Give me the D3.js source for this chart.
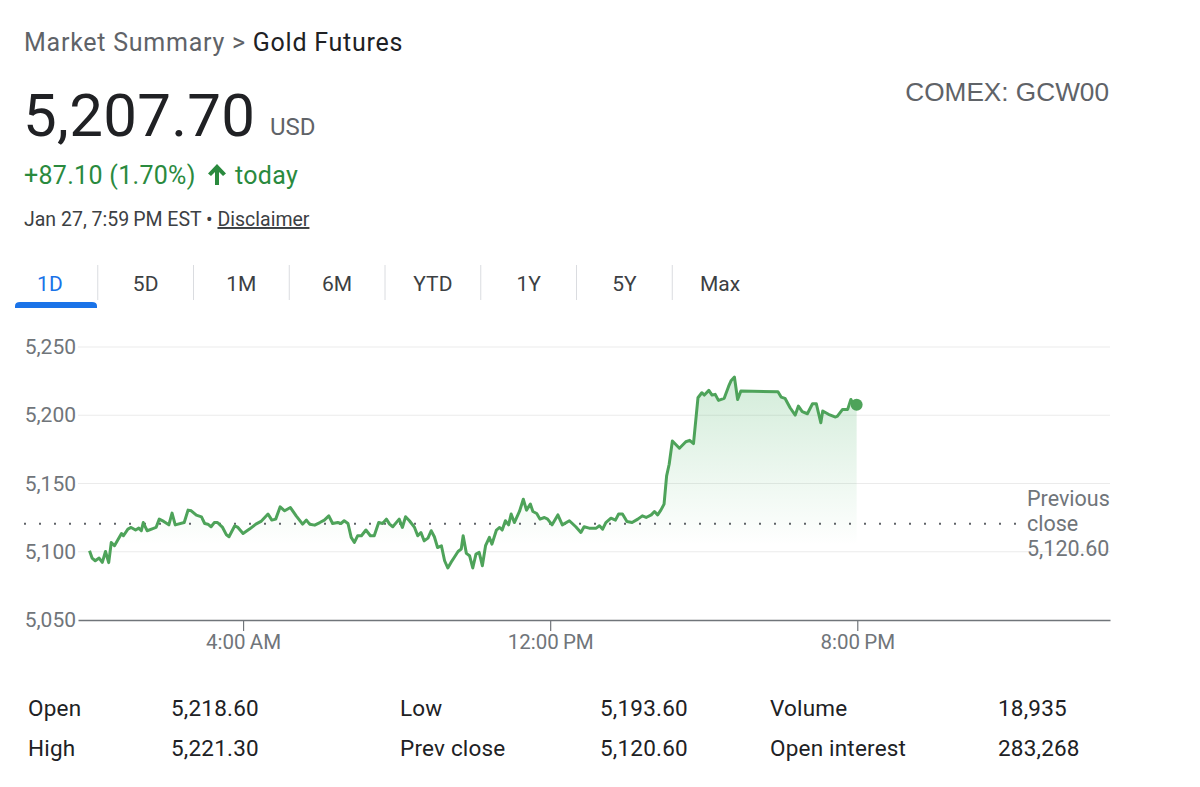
<!DOCTYPE html>
<html>
<head>
<meta charset="utf-8">
<script src="https://cdn.jsdelivr.net/npm/d3@7"></script>
<style>
  body { margin: 0; background: #fff; }
  svg { display: block; font-family: Roboto, "Noto Sans", sans-serif; }
</style>
</head>
<body>
<svg id="chart" width="1200" height="787"></svg>
<script>
// intraday prices, Jan 27 (EST)
const times = [
  "0:00","0:04","0:09","0:15","0:20","0:25","0:30","0:34","0:39","0:50","0:53","1:00","1:05","1:12","1:17","1:21",
  "1:24","1:30","1:39","1:44","1:49","1:56","2:04","2:09","2:14","2:28","2:34","2:39","2:47","2:55","3:00","3:05",
  "3:10","3:15","3:20","3:28","3:34","3:38","3:47","3:52","4:00","4:10","4:20","4:28","4:39","4:45","4:51","4:58",
  "5:05","5:14","5:23","5:33","5:39","5:44","5:52","6:00","6:07","6:14","6:20","6:28","6:33","6:38","6:44","6:49",
  "6:54","6:59","7:05","7:12","7:19","7:25","7:32","7:38","7:44","7:49","7:54","8:04","8:09","8:14","8:20","8:28",
  "8:33","8:38","8:43","8:49","8:54","8:59","9:04","9:10","9:15","9:20","9:25","9:30","9:36","9:41","9:44","9:49",
  "9:54","9:59","10:04","10:09","10:14","10:19","10:25","10:29","10:36","10:41","10:45","10:50","10:55","10:59","11:04","11:12",
  "11:18","11:23","11:29","11:33","11:39","11:44","11:51","11:56","12:03","12:12","12:19","12:30","12:40","12:48","12:53","13:01",
  "13:12","13:17","13:22","13:27","13:35","13:42","13:47","13:53","14:00","14:08","14:17","14:24","14:30","14:38","14:43","14:48",
  "14:53","14:58","15:02","15:06","15:11","15:22","15:32","15:38","15:44","15:51","15:57","16:01","16:08","16:13","16:18","16:23",
  "16:32","16:39","16:43","16:48","16:53","16:58","17:56","18:01","18:07","18:15","18:23","18:28","18:34","18:42","18:50","18:56",
  "19:03","19:06","19:15","19:26","19:29","19:37","19:45","19:50","19:55","19:59"
];
const prices = [
  5100.7,5095.4,5093.4,5095.4,5092.2,5100.2,5092.0,5106.8,5104.4,5113.4,5111.7,5116.6,5117.8,5115.9,5117.3,5115.4,
  5121.4,5115.4,5117.0,5117.8,5123.9,5122.2,5119.7,5128.3,5119.7,5121.4,5130.5,5130.0,5126.8,5125.6,5120.7,5120.2,
  5118.3,5121.4,5121.4,5117.8,5112.4,5111.0,5119.0,5117.8,5113.4,5116.6,5120.2,5122.2,5127.6,5123.2,5123.9,5132.9,
  5130.0,5132.4,5126.3,5120.2,5123.2,5120.2,5119.5,5121.4,5123.2,5126.3,5120.7,5121.4,5120.7,5122.7,5120.7,5110.5,
  5106.8,5111.7,5111.7,5115.9,5111.7,5111.7,5121.4,5120.7,5123.9,5120.2,5118.3,5123.9,5117.8,5125.6,5122.7,5117.8,
  5111.7,5114.1,5108.0,5110.0,5115.4,5111.0,5103.1,5104.4,5093.4,5088.1,5092.2,5095.8,5100.2,5102.0,5111.7,5098.8,
  5097.1,5088.1,5098.3,5099.5,5089.8,5104.4,5110.5,5105.6,5115.9,5117.8,5115.9,5122.7,5119.7,5127.6,5121.4,5129.5,
  5138.5,5130.5,5134.9,5129.5,5128.0,5123.9,5125.1,5123.9,5119.7,5127.0,5119.7,5122.7,5118.3,5114.1,5118.3,5117.3,
  5117.3,5119.0,5116.6,5121.4,5124.6,5123.2,5127.6,5127.6,5122.2,5121.4,5123.9,5126.3,5125.1,5127.0,5129.5,5127.0,
  5130.5,5134.9,5155.6,5164.1,5181.1,5175.8,5180.6,5181.6,5179.2,5212.8,5216.5,5214.8,5218.2,5214.8,5215.3,5210.9,
  5212.4,5221.3,5225.5,5227.9,5211.6,5217.7,5217.2,5213.3,5212.4,5205.5,5200.1,5206.7,5202.6,5201.1,5208.4,5208.4,
  5194.5,5203.1,5200.7,5198.7,5199.4,5204.3,5204.3,5211.6,5206.7,5207.7
];
const prevClose = 5120.60;
const yTicks = [5050, 5100, 5150, 5200, 5250];
const xTickHours = [4, 12, 20];
const tabs = ["1D", "5D", "1M", "6M", "YTD", "1Y", "5Y", "Max"];
const statLabels = [["Open", "High"], ["Low", "Prev close"], ["Volume", "Open interest"]];
const statValues = [["5,218.60", "5,221.30"], ["5,193.60", "5,120.60"], ["18,935", "283,268"]];

const day = (h, m) => new Date(2026, 0, 27, h, m);
const data = times.map((t, i) => {
  const [h, m] = t.split(":").map(Number);
  return { date: day(h, m), value: prices[i] };
});

const svg = d3.select("#chart");
const green = "#4ea35a";
const gray = "#70757a";

// header
const title = svg.append("text").attr("x", 24).attr("y", 51)
  .style("font-size", "25px").style("letter-spacing", "0.75px");
title.append("tspan").attr("fill", "#5f6368").text("Market Summary > ");
title.append("tspan").attr("fill", "#202124").text("Gold Futures");

svg.append("text").attr("x", 23).attr("y", 136)
  .style("font-size", "60px").style("letter-spacing", "0.3px").attr("fill", "#202124")
  .text("5,207.70");
svg.append("text").attr("x", 270).attr("y", 135)
  .style("font-size", "24px").attr("fill", "#5f6368").text("USD");

svg.append("text").attr("x", 24).attr("y", 184)
  .style("font-size", "25px").style("letter-spacing", "0.3px").attr("fill", "#2a8a3e")
  .text("+87.10 (1.70%)");
svg.append("path")
  .attr("d", "M217,164 L208,173.5 L211,176 L215,172 L215,185 L219,185 L219,172 L223,176 L226,173.5 Z")
  .attr("fill", "#2a8a3e");
svg.append("text").attr("x", 235).attr("y", 184)
  .style("font-size", "25px").style("letter-spacing", "0.3px").attr("fill", "#2a8a3e")
  .text("today");

const stamp = svg.append("text").attr("x", 24).attr("y", 226)
  .style("font-size", "19.5px").attr("fill", "#3c4043");
stamp.append("tspan").text("Jan 27, 7:59\u2009PM EST \u2022 ");
stamp.append("tspan").style("text-decoration", "underline").text("Disclaimer");

svg.append("text").attr("x", 1109).attr("y", 101).attr("text-anchor", "end")
  .style("font-family", "'Liberation Sans', Arial, sans-serif")
  .style("font-size", "26.2px").attr("fill", "#5f6368").text("COMEX: GCW00");

// range tabs
const tabX = d3.scaleBand().domain(tabs).range([2, 768]);
const tabG = svg.append("g");
tabs.forEach((t, i) => {
  tabG.append("text")
    .attr("x", tabX(t) + tabX.bandwidth() / 2).attr("y", 291)
    .attr("text-anchor", "middle").style("font-size", "21px")
    .attr("fill", i === 0 ? "#1a73e8" : "#3c4043").text(t);
  if (i > 0) tabG.append("line")
    .attr("x1", tabX(t)).attr("x2", tabX(t)).attr("y1", 265).attr("y2", 300)
    .attr("stroke", "#dadce0");
});
tabG.append("path")
  .attr("d", `M15,308 L15,306 Q15,302 20,302 L92,302 Q97,302 97,306 L97,308 Z`)
  .attr("fill", "#1a73e8");

// chart
const x = d3.scaleTime()
  .domain([new Date(2026, 0, 26, 23, 42), new Date(2026, 0, 28, 2, 35)])
  .range([78, 1110]);
const y = d3.scaleLinear().domain([5050, 5250]).range([620, 347]);

svg.append("g").selectAll("line").data(yTicks.slice(1)).join("line")
  .attr("x1", 78).attr("x2", 1110)
  .attr("y1", d => y(d)).attr("y2", d => y(d))
  .attr("stroke", "#ebebeb").attr("stroke-width", 1);

const yAxis = svg.append("g").attr("transform", "translate(78,0)")
  .call(d3.axisLeft(y).tickValues(yTicks).tickSize(0).tickPadding(2).tickFormat(d3.format(",")));
yAxis.select(".domain").remove();
yAxis.selectAll("text").style("font-size", "21px").attr("fill", gray).style("font-family", "Roboto");

// area gradient
const defs = svg.append("defs");
const grad = defs.append("linearGradient").attr("id", "fillGrad")
  .attr("gradientUnits", "userSpaceOnUse")
  .attr("x1", 0).attr("x2", 0).attr("y1", y(5228)).attr("y2", 545);
grad.append("stop").attr("offset", 0).attr("stop-color", "#34a853").attr("stop-opacity", 0.22);
grad.append("stop").attr("offset", 1).attr("stop-color", "#34a853").attr("stop-opacity", 0);

svg.append("path").datum(data)
  .attr("fill", "url(#fillGrad)")
  .attr("d", d3.area().x(d => x(d.date)).y0(545).y1(d => y(d.value)));

// previous close dotted line
svg.append("line")
  .attr("x1", 24).attr("x2", 1020)
  .attr("y1", y(prevClose)).attr("y2", y(prevClose))
  .attr("stroke", "#5f6368").attr("stroke-width", 2)
  .attr("stroke-dasharray", "2,13");

const pc = svg.append("text").attr("x", 1027).style("font-size", "21.5px").attr("fill", gray);
["Previous", "close", d3.format(",.2f")(prevClose)].forEach((s, i) =>
  pc.append("tspan").attr("x", 1027).attr("y", 506 + i * 25).text(s));

// price line
svg.append("path").datum(data)
  .attr("fill", "none").attr("stroke", green).attr("stroke-width", 3)
  .attr("stroke-linejoin", "round")
  .attr("d", d3.line().x(d => x(d.date)).y(d => y(d.value)));

const last = data[data.length - 1];
svg.append("circle").attr("cx", x(last.date)).attr("cy", y(last.value)).attr("r", 6).attr("fill", green);

// x axis
const xAxis = svg.append("g").attr("transform", "translate(0,620)")
  .call(d3.axisBottom(x)
    .tickValues(xTickHours.map(h => day(h, 0)))
    .tickSize(11).tickSizeOuter(0).tickPadding(3)
    .tickFormat(d3.timeFormat("%-I:%M\u2009%p")));
xAxis.select(".domain").attr("stroke", gray).attr("stroke-width", 1.5);
xAxis.selectAll(".tick line").attr("stroke", gray).attr("stroke-width", 1.2);
xAxis.selectAll("text").style("font-size", "20.5px").attr("fill", gray).style("font-family", "Roboto");

// stats table
const colX = [[28, 171], [400, 600], [770, 998]];
statLabels.forEach((col, c) => {
  col.forEach((lab, r) => {
    svg.append("text").attr("x", colX[c][0]).attr("y", 716 + r * 40)
      .style("font-size", "22.5px").style("letter-spacing", "0.2px").attr("fill", "#202124").text(lab);
    svg.append("text").attr("x", colX[c][1]).attr("y", 716 + r * 40)
      .style("font-size", "22.5px").style("letter-spacing", "0.2px").attr("fill", "#202124").text(statValues[c][r]);
  });
});
</script>
</body>
</html>
